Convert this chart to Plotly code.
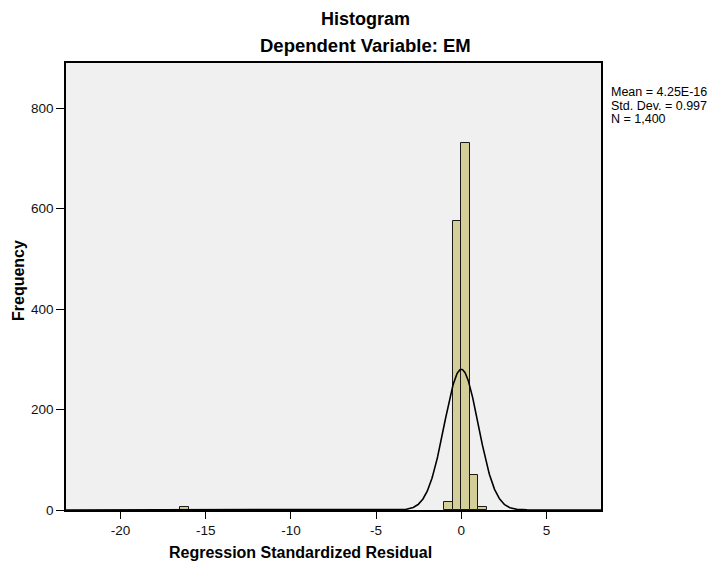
import numpy as np
import plotly.graph_objects as go

# Histogram bins (left edges) and frequencies, bin width 0.5
bin_left = [-16.5, -1.0, -0.5, 0.0, 0.5, 1.0]
counts = [5, 15, 575, 730, 70, 5]
bin_width = 0.5

stat_mean = 4.25e-16
stat_sd = 0.997
stat_n = 1400

x_ticks = [-20, -15, -10, -5, 0, 5]
x_tick_labels = ["-20", "-15", "-10", "-5", "0", "5"]
y_ticks = [0, 200, 400, 600, 800]
stats_lines = ["Mean = 4.25E-16", "Std. Dev. = 0.997", "N = 1,400"]

centers = [b + bin_width / 2 for b in bin_left]

fig = go.Figure()
fig.add_trace(go.Bar(
    x=centers, y=counts, width=bin_width,
    marker=dict(color="#d4cf98", line=dict(color="#1a1a1a", width=1)),
    hoverinfo="x+y", showlegend=False,
))

xs = np.linspace(-23.2, 8.2, 1200)
ys = stat_n * bin_width * np.exp(-0.5 * ((xs - stat_mean) / stat_sd) ** 2) / (stat_sd * np.sqrt(2 * np.pi))
fig.add_trace(go.Scatter(x=xs, y=ys, mode="lines", line=dict(color="black", width=1.6),
                         showlegend=False, hoverinfo="skip"))

font_family = "Liberation Sans, Arial, sans-serif"

# plot area in page pixels: left 66, right 601, top 63, bottom 510 (page has 8px body margin)
PL, PT, PW, PH = 66, 63, 535, 447


def px(x):
    return (x - PL) / PW


def py(y):
    return (PT + PH - y) / PH


annotations = [
    dict(text="<b>Histogram</b>", xref="paper", yref="paper", x=px(365), y=py(19),
         xanchor="center", yanchor="middle", showarrow=False, borderpad=0, font=dict(size=18)),
    dict(text="<b>Dependent Variable: EM</b>", xref="paper", yref="paper", x=px(365),
         y=py(45), xanchor="center", yanchor="middle", showarrow=False, borderpad=0,
         font=dict(size=18.5)),
    dict(text="<b>Frequency</b>", xref="paper", yref="paper", x=px(18), y=py(281),
         xanchor="center", yanchor="middle", textangle=-90, showarrow=False, font=dict(size=16)),
    dict(text="<b>Regression Standardized Residual</b>", xref="paper", yref="paper", x=px(300),
         y=py(552), xanchor="center", yanchor="middle", showarrow=False, font=dict(size=16)),
]
for i, line in enumerate(stats_lines):
    annotations.append(dict(text=line, xref="paper", yref="paper", x=px(610), y=py(92 + 13.5 * i),
                            xanchor="left", yanchor="middle", align="left", showarrow=False,
                            borderpad=0, font=dict(size=12.5)))

fig.update_layout(
    width=711, height=558,
    margin=dict(l=58, r=118, t=55, b=56),
    paper_bgcolor="white", plot_bgcolor="#f0f0f0",
    font=dict(family=font_family, color="black"),
    bargap=0,
    xaxis=dict(range=[-23.2, 8.2], tickvals=x_ticks, ticktext=x_tick_labels, ticks="outside",
               ticklen=7, tickwidth=1.2, tickcolor="black", showgrid=False, zeroline=False,
               showline=True, mirror=True, linecolor="black", linewidth=1.5,
               tickfont=dict(size=13.5, color="#111")),
    yaxis=dict(range=[0, 890], tickvals=y_ticks, ticks="outside", ticklen=8, tickwidth=1.2,
               tickcolor="black", showgrid=False, zeroline=False, showline=True, mirror=True,
               linecolor="black", linewidth=1.5, tickfont=dict(size=13.5, color="#111")),
    annotations=annotations,
)

fig.write_html("out.html")
